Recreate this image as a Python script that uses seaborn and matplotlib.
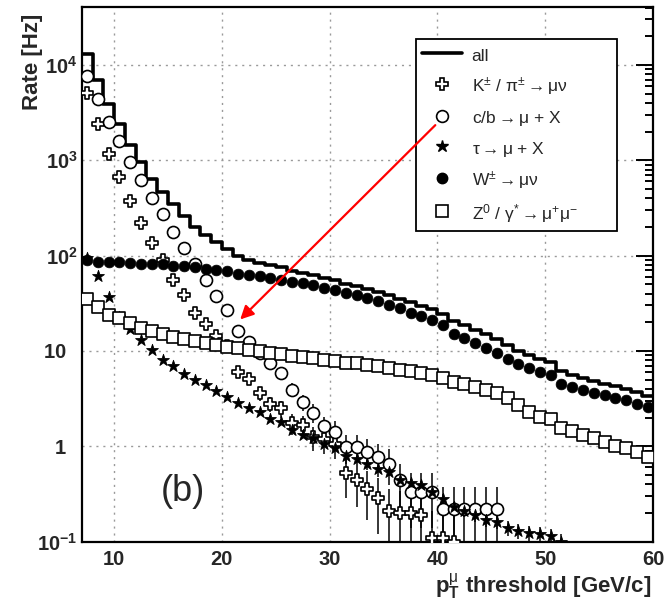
import matplotlib
matplotlib.use('Agg')
import matplotlib.pyplot as plt
from matplotlib.lines import Line2D
from matplotlib.ticker import LogLocator, MultipleLocator, NullFormatter
import pandas as pd
import seaborn as sns

# lower edges of the 1 GeV/c threshold bins
pt_lo = list(range(7, 60))

# rates [Hz] per bin
rate_all = [13100, 6920, 3850, 2430, 1460, 970, 630, 462, 345, 262,
            200, 164, 139, 118, 99.5, 91, 84, 80, 75.5, 69.6,
            66.4, 62.6, 58.3, 55.3, 50.4, 48.1, 45.2, 41.9, 38.8, 35.3,
            32.4, 29.9, 27.4, 24.5, 20.5, 18.6, 16.7, 15.0, 13.5, 11.6,
            10.1, 9.0, 8.2, 7.7, 6.2, 5.65, 5.2, 4.9, 4.55, 4.25, 4.0, 3.7, 3.4]

rate_kpi = [5020, 2390, 1177, 670, 375, 220, 136, 89.5, 55.2, 38.4,
            25.3, 19.4, 14.3, 11.2, 6.0, 5.1, 3.6, 2.8, 2.5, 1.75,
            1.66, 1.25, 1.18, 1.07, 0.52, 0.44, 0.36, 0.29, 0.21, 0.2,
            0.2, 0.19, 0.11, 0.11, 0.1]
err_kpi = [22, 15, 11, 8.2, 6.1, 4.7, 3.7, 3.0, 2.35, 1.96,
           1.6, 1.4, 1.2, 1.06, 0.77, 0.71, 0.6, 0.53, 0.5, 0.42,
           0.41, 0.35, 0.34, 0.33, 0.23, 0.21, 0.19, 0.17, 0.145, 0.14,
           0.14, 0.14, 0.1, 0.1, 0.095]

rate_cb = [7630, 4345, 2510, 1600, 948, 628, 400, 272, 175, 119,
           82.6, 55, 37.5, 27.2, 16.2, 12.4, 9.5, 7.4, 5.9, 3.94,
           2.92, 2.25, 1.63, 1.43, 0.98, 0.98, 0.88, 0.77, 0.66, 0.44,
           0.33, 0.33, 0.33, 0.22, 0.22, 0.22, 0.22, 0.22, 0.22]
err_cb = [29, 22, 16.6, 13.3, 10.2, 8.3, 6.6, 5.5, 4.4, 3.6,
          3.0, 2.5, 2.0, 1.7, 1.3, 1.17, 1.02, 0.9, 0.8, 0.66,
          0.57, 0.5, 0.42, 0.4, 0.33, 0.33, 0.31, 0.29, 0.27, 0.22,
          0.19, 0.19, 0.19, 0.155, 0.155, 0.155, 0.155, 0.155, 0.155]

rate_tau = [95, 60.8, 36.9, 22.7, 16.8, 12.9, 10.2, 8.0, 6.96, 5.7,
            4.93, 4.37, 3.8, 3.29, 2.85, 2.55, 2.29, 1.95, 1.8, 1.5,
            1.32, 1.22, 1.05, 0.95, 0.8, 0.74, 0.66, 0.58, 0.54, 0.44,
            0.41, 0.39, 0.33, 0.28, 0.23, 0.21, 0.19, 0.17, 0.16, 0.14,
            0.13, 0.123, 0.12, 0.116, 0.1]
err_tau = [0.6, 0.5, 0.38, 0.3, 0.26, 0.23, 0.2, 0.18, 0.17, 0.15,
           0.14, 0.13, 0.12, 0.115, 0.105, 0.1, 0.095, 0.088, 0.085, 0.077,
           0.073, 0.07, 0.065, 0.062, 0.057, 0.054, 0.051, 0.048, 0.046, 0.042,
           0.04, 0.039, 0.036, 0.033, 0.03, 0.029, 0.028, 0.026, 0.025, 0.024,
           0.023, 0.022, 0.022, 0.021, 0.02]

rate_w = [89.5, 86, 86, 85, 84.6, 82.6, 81, 81, 78, 78,
          76, 73.2, 71.5, 69, 64.5, 63, 60.5, 58.5, 56, 53.5,
          51.8, 49.5, 46.3, 44, 40.5, 38.5, 36.1, 33.3, 30.7, 27.9,
          25.3, 23.1, 21.0, 18.6, 15.2, 13.7, 12.1, 10.7, 9.5, 8.3,
          7.3, 6.6, 6.05, 5.6, 4.55, 4.2, 3.87, 3.65, 3.45, 3.23, 3.05, 2.8, 2.58]

rate_z = [35.5, 29, 24.1, 22.3, 19.8, 17.6, 16.1, 15.0, 14.0, 13.2,
          12.7, 12.1, 11.5, 11.0, 10.65, 10.3, 9.95, 9.55, 9.3, 8.9,
          8.7, 8.4, 8.1, 7.8, 7.55, 7.4, 7.2, 6.96, 6.7, 6.27,
          6.13, 5.9, 5.65, 5.25, 4.73, 4.47, 4.19, 3.93, 3.6, 3.2,
          2.69, 2.29, 2.03, 1.95, 1.57, 1.45, 1.3, 1.23, 1.11, 1.02, 0.95, 0.87, 0.77]

legend_labels = ['all',
                 'K$^{\\pm}$ / π$^{\\pm}$$\\rightarrow$μν',
                 'c/b$\\rightarrow$μ + X',
                 'τ$\\rightarrow$μ + X',
                 'W$^{\\pm}$$\\rightarrow$μν',
                 'Z$^{0}$ / γ$^{*}$$\\rightarrow$μ$^{+}$μ$^{-}$']

x_ticks = [10, 20, 30, 40, 50, 60]
y_ticks = [0.1, 1, 10, 100, 1000, 10000]
y_tick_labels = ['$\\mathbf{10^{-1}}$', '1  ', '10  ',
                 '$\\mathbf{10^{2}}$', '$\\mathbf{10^{3}}$', '$\\mathbf{10^{4}}$']

sns.set_style('white')
plt.rcParams['font.family'] = ['Liberation Sans', 'DejaVu Sans']
plt.rcParams['mathtext.fontset'] = 'custom'
plt.rcParams['mathtext.rm'] = 'Liberation Sans'
plt.rcParams['mathtext.it'] = 'Liberation Sans:italic'
plt.rcParams['mathtext.bf'] = 'Liberation Sans:bold'

centres = [lo + 0.5 for lo in pt_lo]

fig = plt.figure(figsize=(6.7, 6.03), dpi=100)
ax = fig.add_axes([0.122, 0.1017, 0.8527, 0.8867])

# histogram outline of the total rate
steps = pd.DataFrame({'pt': pt_lo + [pt_lo[-1] + 1], 'rate': rate_all + [rate_all[-1]]})
sns.lineplot(data=steps, x='pt', y='rate', drawstyle='steps-post', color='black',
             linewidth=2.6, ax=ax, zorder=2)

series = [
    (rate_kpi, err_kpi, dict(marker='P', s=85, color='white', edgecolor='black', linewidth=1.2)),
    (rate_cb, err_cb, dict(marker='o', s=75, color='white', edgecolor='black', linewidth=1.2)),
    (rate_tau, err_tau, dict(marker='*', s=80, color='black', edgecolor='black', linewidth=0.6)),
    (rate_w, None, dict(marker='o', s=60, color='black', edgecolor='black', linewidth=0.5)),
    (rate_z, None, dict(marker='s', s=72, color='white', edgecolor='black', linewidth=1.2)),
]
for vals, errs, style in series:
    df = pd.DataFrame({'pt': centres[:len(vals)], 'rate': vals})
    if errs is not None:
        ax.errorbar(df['pt'], df['rate'], yerr=errs, fmt='none', ecolor='black',
                    elinewidth=1.1, zorder=3)
    sns.scatterplot(data=df, x='pt', y='rate', ax=ax, zorder=4, **style)

ax.set_yscale('log')
ax.set_xlim(7, 60)
ax.set_ylim(0.1, 4.05e4)

ax.set_xticks(x_ticks, labels=[str(t) for t in x_ticks], fontsize=14.5, fontweight='bold')
ax.xaxis.set_minor_locator(MultipleLocator(2))
ax.set_yticks(y_ticks, labels=y_tick_labels, fontsize=14.5, fontweight='bold')
ax.yaxis.set_minor_locator(LogLocator(base=10, subs=range(2, 10), numticks=20))
ax.yaxis.set_minor_formatter(NullFormatter())
ax.tick_params(which='both', direction='in', right=True, top=False, width=1.4, color='black')
ax.tick_params(which='major', length=12)
ax.tick_params(which='minor', length=6)
ax.tick_params(axis='x', which='major', pad=6)
ax.tick_params(axis='y', which='major', pad=3)

for sp in ax.spines.values():
    sp.set_linewidth(1.6)
    sp.set_color('black')

ax.grid(True, which='major', color='#9a9a9a', linestyle=(0, (1.5, 3.5)), linewidth=1.0)
ax.set_axisbelow(True)

ax.set_ylabel('Rate [Hz]', fontsize=16, fontweight='bold', loc='top')
ax.yaxis.set_label_coords(-0.068, 0.988)
ax.set_xlabel('$\\mathbf{p}_{\\mathbf{T}}^{\\mathrm{μ}}$ threshold [GeV/c]', fontsize=16,
              fontweight='bold', loc='right')
ax.xaxis.set_label_coords(0.997, -0.056)

handles = [
    Line2D([], [], color='black', lw=2.6),
    Line2D([], [], ls='none', marker='P', ms=9, mfc='white', mec='black', mew=1.2),
    Line2D([], [], ls='none', marker='o', ms=8.5, mfc='white', mec='black', mew=1.2),
    Line2D([], [], ls='none', marker='*', ms=9, mfc='black', mec='black'),
    Line2D([], [], ls='none', marker='o', ms=7.5, mfc='black', mec='black'),
    Line2D([], [], ls='none', marker='s', ms=8.5, mfc='white', mec='black', mew=1.2),
]
leg = ax.legend(handles, legend_labels, loc='upper left',
                bbox_to_anchor=(0.585, 0.60, 0.352, 0.34), mode='expand',
                fontsize=12.5, frameon=True, fancybox=False, edgecolor='black',
                borderaxespad=0, borderpad=0.35, handlelength=2.3, handletextpad=0.55,
                handleheight=1.4, labelspacing=0.58)
leg.get_frame().set_linewidth(1.3)
leg.get_frame().set_alpha(1)
leg.set_zorder(6)

# arrow from the c/b legend entry to its curve
ax.annotate('', xy=(21.7, 21.4), xytext=(39.8, 2335),
            arrowprops=dict(arrowstyle='-|>', color='red', lw=1.6, mutation_scale=20,
                            shrinkA=0, shrinkB=0), zorder=10)
ax.text(16.4, 0.337, '(b)', fontsize=26, ha='center', va='center')

plt.savefig('out.png', dpi=100)
